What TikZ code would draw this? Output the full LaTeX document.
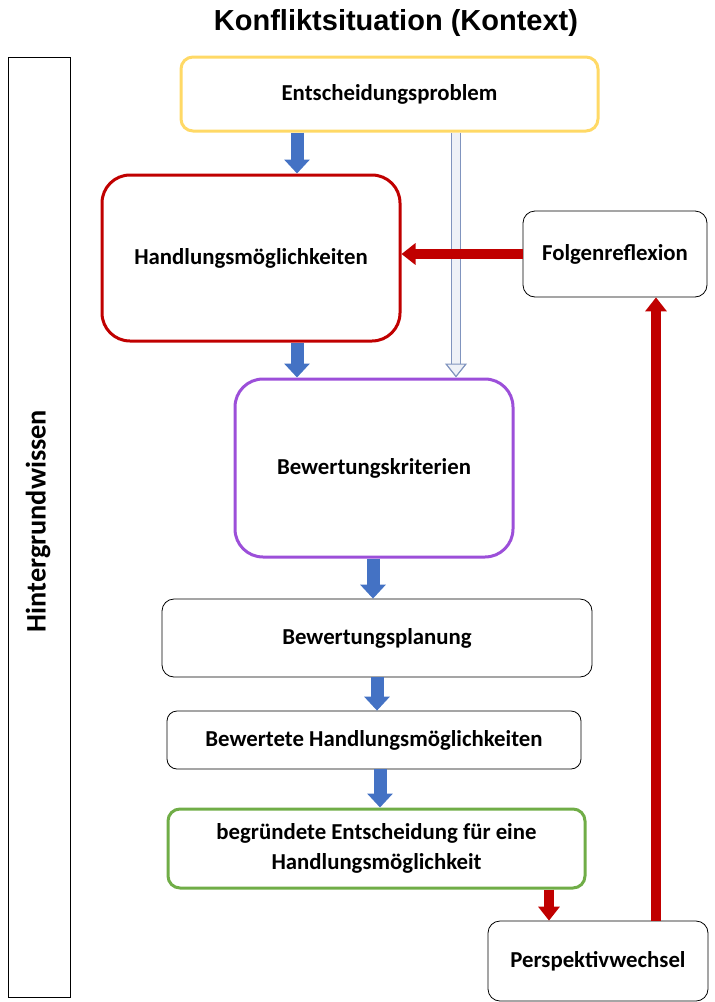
\documentclass[tikz,border=0pt]{standalone}
\usepackage{fontspec}
\setmainfont{Carlito}
\newfontfamily\titlefont{Liberation Sans}
\usetikzlibrary{arrows.meta}

\definecolor{kyellow}{HTML}{FFD966}
\definecolor{kred}{HTML}{C00000}
\definecolor{kpurple}{HTML}{9C4FD9}
\definecolor{kgreen}{HTML}{70AD47}
\definecolor{kblue}{HTML}{4472C4}
\definecolor{klight}{HTML}{EEF1F7}
\definecolor{kgrey}{HTML}{8094BE}

\begin{document}
\begin{tikzpicture}[
    x=1pt, y=-1pt,
    font=\bfseries\fontsize{22.8}{30}\selectfont,
    stage/.style={rectangle, draw, line width=0.8pt, rounded corners=12pt, align=center, inner sep=0pt},
    keystage/.style={stage, line width=3pt, rounded corners=28pt},
    bluearrow/.style={draw=kblue, line width=13pt, -{Triangle[width=25pt, length=14pt]}},
    redarrow/.style={draw=kred, line width=10pt, -{Triangle[width=21pt, length=14pt]}},
    lightarrow/.style={draw=kgrey, line width=1.2pt, double=klight, double distance=8pt, -{Triangle[width=22pt, length=14pt, fill=klight]}}
]
\useasboundingbox (0,0) rectangle (715,1002);

% Title
\node[font=\titlefont\bfseries\fontsize{29}{34}\selectfont] (title) at (396,23) {Konfliktsituation (Kontext)};

% Background knowledge
\node[rectangle, draw, line width=0.8pt, minimum width=62pt, minimum height=940pt] (wissen) at (39,527) {};
\node[rotate=90, font=\bfseries\fontsize{28.3}{30}\selectfont] (wissentext) at (38,521) {Hintergrundwissen};

% Main stages
\node[stage, draw=kyellow, line width=3pt, minimum width=417pt, minimum height=74pt] (problem) at (389.5,94) {Entscheidungsproblem};
\node[keystage, draw=kred, minimum width=298pt, minimum height=166pt] (optionen) at (251,258) {Handlungsmöglichkeiten};
\node[stage, minimum width=184pt, minimum height=86pt] (folgen) at (615,254) {Folgenreflexion};
\node[keystage, draw=kpurple, minimum width=278pt, minimum height=178pt] (kriterien) at (374,468) {Bewertungskriterien};
\node[stage, minimum width=430pt, minimum height=78pt] (planung) at (377,638) {Bewertungsplanung};
\node[stage, rounded corners=10pt, minimum width=414pt, minimum height=58pt] (bewertet) at (374,740) {Bewertete Handlungsmöglichkeiten};
\node[stage, draw=kgreen, line width=3pt, minimum width=417pt, minimum height=79pt] (entscheidung) at (376.5,848.5) {begründete Entscheidung für eine\\Handlungsmöglichkeit};
\node[stage, minimum width=220pt, minimum height=80pt] (wechsel) at (598,961) {Perspektivwechsel};

% Arrow columns
\coordinate (c1) at (297,0);
\coordinate (c2) at (456,0);
\coordinate (c3) at (373,0);
\coordinate (c4) at (377,0);
\coordinate (c5) at (380,0);
\coordinate (c6) at (549,0);
\coordinate (c7) at (656,0);

% Arrows
\draw[bluearrow] (problem.south -| c1) -- (optionen.north -| c1);
\draw[bluearrow] (optionen.south -| c1) -- (kriterien.north -| c1);
\draw[lightarrow] (problem.south -| c2) -- (kriterien.north -| c2);
\draw[bluearrow] (kriterien.south -| c3) -- (planung.north -| c3);
\draw[bluearrow] (planung.south -| c4) -- (bewertet.north -| c4);
\draw[bluearrow] (bewertet.south -| c5) -- (entscheidung.north -| c5);
\draw[redarrow] (entscheidung.south -| c6) -- (wechsel.north -| c6);
\draw[redarrow] (wechsel.north -| c7) -- (folgen.south -| c7);
\draw[redarrow] (folgen.west) -- (optionen.east |- folgen.west);

\end{tikzpicture}
\end{document}
